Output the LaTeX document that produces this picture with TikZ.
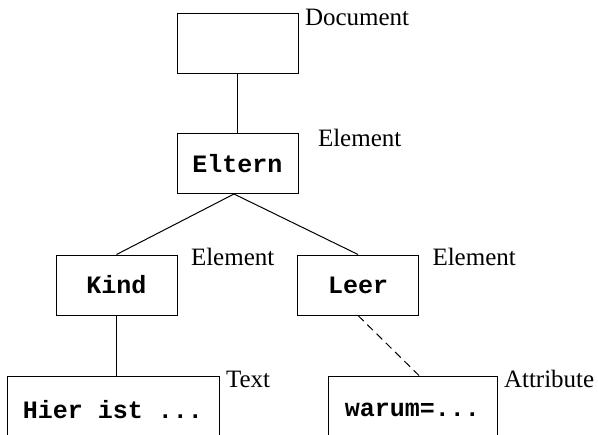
\documentclass[tikz,border=0pt]{standalone}
\usepackage{fontspec}
\setmainfont{Liberation Serif}
\setmonofont{Liberation Mono}
\usepackage{tikz}
\usetikzlibrary{positioning}

\begin{document}
\begin{tikzpicture}[
        x=0.5pt, y=-0.5pt,
        line width=0.5pt,
        % Node styles
        box/.style={rectangle, draw=black, minimum width=60.5pt, minimum height=30pt,
                    inner sep=0pt, font=\fontsize{12.5}{15}\selectfont\ttfamily\bfseries},
        wide/.style={box, minimum height=34pt},
        typ/.style={anchor=base west, inner sep=0pt, font=\fontsize{12.5}{15}\selectfont},
        tie/.style={draw=black},
        attrtie/.style={draw=black, dash pattern=on 4pt off 2.5pt}
    ]
        \clip (0,0) rectangle (598,434);
        \useasboundingbox (0,0) rectangle (598,434);

        % Tree nodes
        \node[box] (doc) at (237.5,43) {};
        \node[box] (eltern) at (237.5,163.5) {Eltern};
        \node[box] (kind) at (116.5,285) {Kind};
        \node[box] (leer) at (358,285) {Leer};
        \node[wide, minimum width=106pt] (hier) at (113,410) {Hier ist ...};
        \node[wide, minimum width=84.5pt] (attr) at (412.5,410) {warum=...};

        % Node type labels
        \node[typ] (doclabel) at ([xshift=3pt, yshift=-6.5pt]doc.north east) {Document};
        \node[typ] (elternlabel) at ([xshift=9.5pt, yshift=-6.5pt]eltern.north east) {Element};
        \node[typ] (kindlabel) at ([xshift=6.5pt, yshift=-5.5pt]kind.north east) {Element};
        \node[typ] (leerlabel) at ([xshift=6.5pt, yshift=-5.5pt]leer.north east) {Element};
        \node[typ] (hierlabel) at ([xshift=3pt, yshift=-6pt]hier.north east) {Text};
        \node[typ] (attrlabel) at ([xshift=3pt, yshift=-6pt]attr.north east) {Attribute};

        % Connectors
        \draw[tie] (doc) -- (eltern);
        \draw[tie] ([xshift=-1.75pt]eltern.south) -- (kind.north);
        \draw[tie] ([xshift=-1.75pt]eltern.south) -- (leer.north);
        \draw[tie] (kind.south) -- (kind.south |- hier.north);
        \draw[attrtie] (leer.south) -- ([xshift=3.25pt]attr.north);
    \end{tikzpicture}
\end{document}
